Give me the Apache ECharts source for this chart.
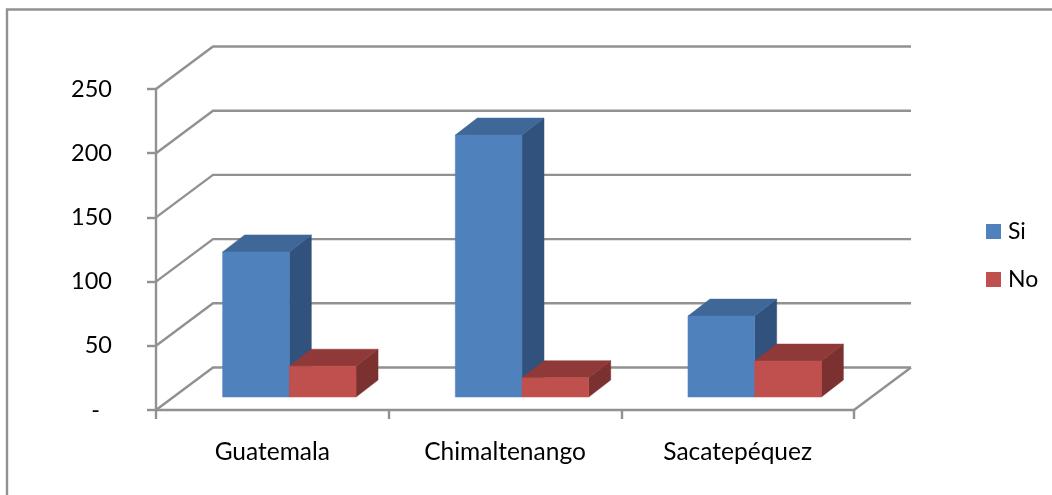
<!DOCTYPE html>
<html><head><meta charset="utf-8">
<style>html,body{margin:0;padding:0;background:#fff}#c{width:1052px;height:495px}</style>
<script src="https://cdn.jsdelivr.net/npm/echarts@6/dist/echarts.min.js"></script>
</head><body><div id="c"></div>
<script>
const categories = ['Guatemala', 'Chimaltenango', 'Sacatepéquez'];
const si = [113, 204, 63];
const no = [24, 15, 28];
const yTicks = [0, 50, 100, 150, 200, 250];
const FONT = 'Lato';
const GRID = '#919191';
const LW = 2.4;
const WALL_DX = 57, WALL_DY = -42.5;    // depth of the floor
const BAR_DX = 22, BAR_DY = -17;        // depth of a bar
const BAR_OX = 17, BAR_OY = -13;        // where bar fronts stand on the floor
const BAR_W = 66.7;

function barRender(slot, front, top, side) {
  return function (params, api) {
    const i = api.value(0), v = api.value(1);
    const base = api.coord([i, 0]);
    const head = api.coord([i, v]);
    const x0 = base[0] + BAR_OX + (slot - 1) * BAR_W, x1 = x0 + BAR_W;
    const yb = base[1] + BAR_OY, yt = head[1] + BAR_OY;
    const poly = (pts, fill) => ({type: 'polygon', shape: {points: pts}, style: {fill: fill, stroke: fill, lineWidth: 0.5}});
    return {type: 'group', children: [
      poly([[x1, yt], [x1 + BAR_DX, yt + BAR_DY], [x1 + BAR_DX, yb + BAR_DY], [x1, yb]], side),
      poly([[x0, yt], [x0 + BAR_DX, yt + BAR_DY], [x1 + BAR_DX, yt + BAR_DY], [x1, yt]], top),
      poly([[x0, yt], [x1, yt], [x1, yb], [x0, yb]], front)
    ]};
  };
}

function wallRender(params, api) {
  const v = api.value(0);
  const a = api.coord([0, v]);
  const cat = api.size([1, 0])[0];
  const left = api.coord([0, 0])[0] - cat / 2;
  const right = left + cat * categories.length;
  const y = a[1];
  const line = {stroke: GRID, lineWidth: LW, fill: 'none'};
  const children = [{type: 'polyline', shape: {points: [[left, y], [left + WALL_DX, y + WALL_DY], [right + WALL_DX, y + WALL_DY]]}, style: line}];
  if (v === 0) children.push({type: 'line', shape: {x1: right, y1: y, x2: right + WALL_DX, y2: y + WALL_DY}, style: line});
  return {type: 'group', children: children};
}

const chart = echarts.init(document.getElementById('c'));
chart.setOption({
  animation: false,
  backgroundColor: '#fff',
  textStyle: {fontFamily: FONT},
  graphic: [{type: 'polyline', shape: {points: [[7, 495], [7, 9.5], [1052, 9.5]]}, style: {stroke: GRID, lineWidth: LW, fill: 'none'}, silent: true}],
  grid: {left: 156, width: 698, top: 89, height: 321},
  legend: {
    data: ['Si', 'No'], orient: 'vertical', left: 986, top: 220, padding: 0, itemWidth: 15, itemHeight: 15, itemGap: 25, icon: 'rect',
    textStyle: {fontFamily: FONT, fontSize: 23, color: '#000', padding: [0, 0, 0, 2]}
  },
  xAxis: {
    type: 'category', data: categories,
    axisLine: {lineStyle: {color: GRID, width: LW}},
    axisTick: {show: true, length: 9, lineStyle: {color: GRID, width: LW}, alignWithLabel: false},
    axisLabel: {fontFamily: FONT, fontSize: 24.5, color: '#000', margin: 30, interval: 0}
  },
  yAxis: {
    type: 'value', min: 0, max: 250, interval: 50,
    splitLine: {show: false},
    axisLine: {show: true, lineStyle: {color: GRID, width: LW}},
    axisTick: {show: true, length: 9, lineStyle: {color: GRID, width: LW}},
    axisLabel: {fontFamily: FONT, fontSize: 23.5, color: '#000', margin: 44, padding: [2, 0, 0, 0],
      formatter: v => v === 0 ? '-  ' : String(v)}
  },
  series: [
    {type: 'custom', name: 'walls', data: yTicks.map(v => [v]), renderItem: wallRender, encode: {y: 0}, silent: true, z: 1},
    {type: 'custom', name: 'Si', data: si.map((v, i) => [i, v]), renderItem: barRender(0, '#4F81BD', '#3F6797', '#31527C'), encode: {x: 0, y: 1}, itemStyle: {color: '#4F81BD'}, z: 2},
    {type: 'custom', name: 'No', data: no.map((v, i) => [i, v]), renderItem: barRender(1, '#C0504D', '#8F3A38', '#7A312F'), encode: {x: 0, y: 1}, itemStyle: {color: '#C0504D'}, z: 3}
  ]
});
</script></body></html>
